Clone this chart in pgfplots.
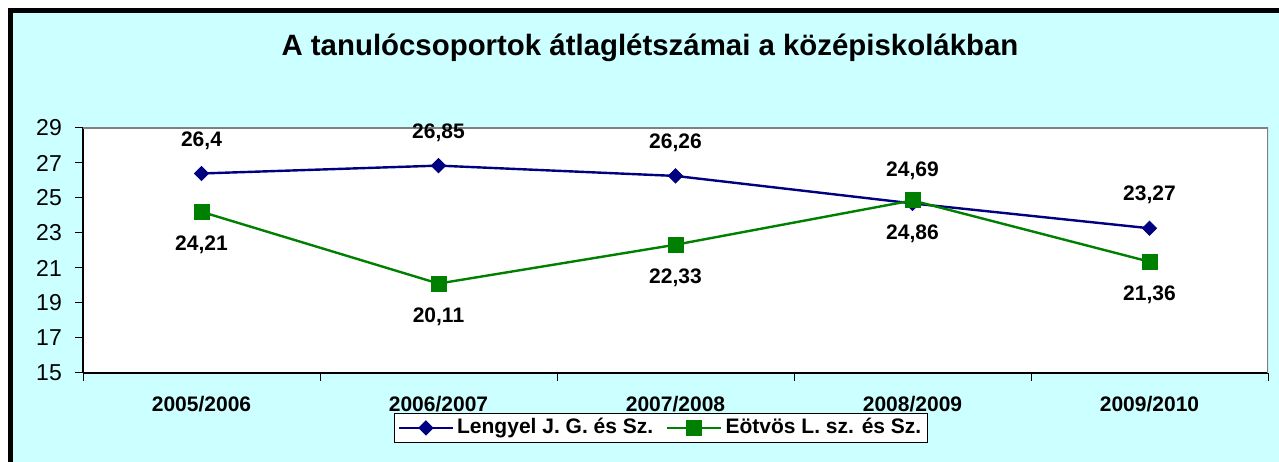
\documentclass[border=0pt]{standalone}
\usepackage{pgfplots}
\pgfplotsset{compat=1.18}
\usepackage{fontspec}
\setmainfont{Liberation Sans}
\definecolor{bgcyan}{RGB}{204,255,255}
\definecolor{navy}{RGB}{0,0,128}
\definecolor{dgreen}{RGB}{0,128,0}
\definecolor{frame}{RGB}{128,128,128}
\begin{document}
\begin{tikzpicture}[x=1bp,y=1bp]
\useasboundingbox (0,0) rectangle (1279,462);
\fill[white] (0,0) rectangle (1279,462);
\fill[bgcyan] (8,0) rectangle (1279,454);
\fill[black] (8,0) rectangle (13,454);
\fill[black] (8,449) rectangle (1279,454);
\node[font=\bfseries\fontsize{29.4bp}{34bp}\selectfont, anchor=base, inner sep=0pt] at (650,406) {A tanulócsoportok átlaglétszámai a középiskolákban};
\begin{axis}[
  at={(83bp,89bp)}, anchor=south west,
  scale only axis, width=1185bp, height=245bp,
  xmin=-0.5, xmax=4.5, ymin=15, ymax=29,
  ytick={15,17,...,29},
  xtick={-0.5,0.5,1.5,2.5,3.5,4.5}, xticklabels={},
  extra x ticks={0,1,2,3,4},
  extra x tick labels={2005/2006,2006/2007,2007/2008,2008/2009,2009/2010},
  extra x tick style={major tick length=0pt},
  axis x line*=bottom, axis y line*=left,
  axis line style={black, line width=1.2bp},
  tick align=outside, major tick length=8bp,
  tick style={black, line width=1bp},
  axis background/.style={fill=white},
  /pgf/number format/assume math mode=true,
  yticklabel style={font=\fontsize{23bp}{27bp}\selectfont, anchor=east, inner sep=0pt, xshift=-13bp},
  xticklabel style={font=\bfseries\fontsize{21bp}{25bp}\selectfont, anchor=base, inner sep=0pt, yshift=-39bp},
  nodes near coords, point meta=explicit symbolic,
  legend columns=2,
  legend style={at={(0.4878,-0.1633)}, anchor=north, draw=black, fill=white,
    line width=0.9bp, font=\bfseries\fontsize{21bp}{25bp}\selectfont,
    inner xsep=3bp, inner ysep=2bp,
    nodes={inner xsep=3bp, inner ysep=2bp, text height=16bp, text depth=5bp},
    /tikz/every even column/.append style={column sep=10bp}},
  legend image code/.code={\draw[#1, mark repeat=2, mark phase=2] plot coordinates {(0bp,0bp) (27bp,0bp) (54bp,0bp)};},
]
\addplot[navy, line width=2.4bp, mark=diamond*, mark size=7bp, mark options={xscale=1.33, fill=navy, line width=1bp},
  every node near coord/.append style={black, font=\bfseries\fontsize{21bp}{25bp}\selectfont, anchor=center, yshift=33bp}]
  coordinates {(0,26.4)[26,4] (1,26.85)[26,85] (2,26.26)[26,26] (3,24.69)[24,69] (4,23.27)[23,27]};
\addlegendentry{Lengyel J. G. és Sz.}
\addplot[dgreen, line width=2.4bp, mark=square*, mark size=7.5bp, mark options={fill=dgreen, line width=1bp},
  every node near coord/.append style={black, font=\bfseries\fontsize{21bp}{25bp}\selectfont, anchor=center, yshift=-33bp}]
  coordinates {(0,24.21)[24,21] (1,20.11)[20,11] (2,22.33)[22,33] (3,24.86)[24,86] (4,21.36)[21,36]};
\addlegendentry{Eötvös L. sz. és Sz.}
\draw[frame, line width=1.2bp] (rel axis cs:0,1) -- (rel axis cs:1,1) -- (rel axis cs:1,0);
\end{axis}
\end{tikzpicture}
\end{document}
